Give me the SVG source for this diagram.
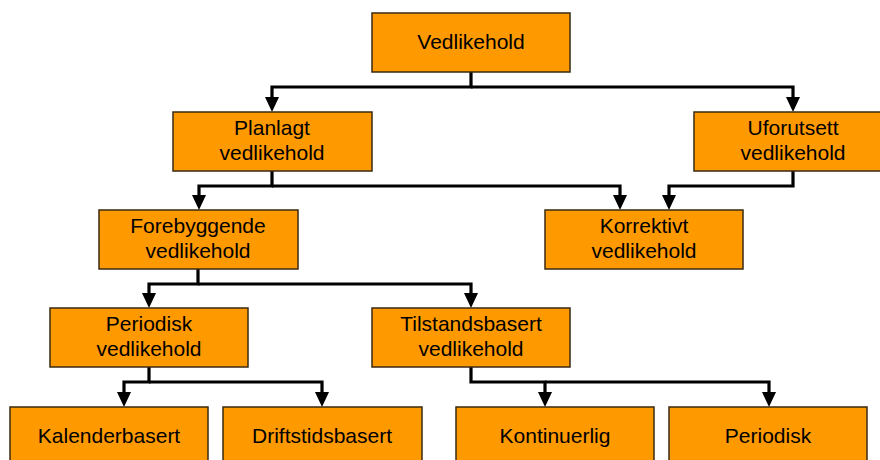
<svg xmlns="http://www.w3.org/2000/svg" width="880" height="460" viewBox="0 0 880 460">
  <style>
    .box { fill: #FF9900; stroke: #3a2a10; stroke-width: 1.5; }
    .lbl { font-family: "Liberation Sans", Arial, sans-serif; font-size: 21px; fill: #000; text-anchor: middle; }
    .wire { fill: none; stroke: #000; stroke-width: 3.2; stroke-linejoin: miter; }
  </style>
  <rect width="880" height="460" fill="#fff"/>

  <!-- connectors -->
  <g id="connectors">
    <path class="wire" d="M471,72 V87 H272 V97" />
    <path class="wire" d="M471,87 H793 V97" />
    <path class="wire" d="M272,171 V186 H199 V196" />
    <path class="wire" d="M272,186 H620 V196" />
    <path class="wire" d="M793,171 V186 H669 V196" />
    <path class="wire" d="M198,269 V284 H149 V294" />
    <path class="wire" d="M198,284 H471 V294" />
    <path class="wire" d="M149,367 V382 H124 V393" />
    <path class="wire" d="M149,382 H322 V393" />
    <path class="wire" d="M471,367 V382 H545 V393" />
    <path class="wire" d="M545,382 H769 V393" />
    <!-- arrowheads -->
    <g fill="#000">
      <path d="M265,97 L279,97 L272,112 Z"/>
      <path d="M786,97 L800,97 L793,112 Z"/>
      <path d="M192,195 L206,195 L199,210 Z"/>
      <path d="M613,195 L627,195 L620,210 Z"/>
      <path d="M662,195 L676,195 L669,210 Z"/>
      <path d="M142,293 L156,293 L149,308 Z"/>
      <path d="M464,293 L478,293 L471,308 Z"/>
      <path d="M117,392 L131,392 L124,407 Z"/>
      <path d="M315,392 L329,392 L322,407 Z"/>
      <path d="M538,392 L552,392 L545,407 Z"/>
      <path d="M762,392 L776,392 L769,407 Z"/>
    </g>
  </g>

  <g id="vedlikehold">
    <rect class="box" x="372" y="13" width="198" height="59"/>
    <text class="lbl" x="471" y="49">Vedlikehold</text>
  </g>
  <g id="planlagt">
    <rect class="box" x="173" y="112" width="199" height="59"/>
    <text class="lbl" x="272" y="135">Planlagt</text>
    <text class="lbl" x="272" y="160">vedlikehold</text>
  </g>
  <g id="uforutsett">
    <rect class="box" x="694" y="112" width="199" height="59"/>
    <text class="lbl" x="793" y="135">Uforutsett</text>
    <text class="lbl" x="793" y="160">vedlikehold</text>
  </g>
  <g id="forebyggende">
    <rect class="box" x="99" y="210" width="199" height="59"/>
    <text class="lbl" x="198" y="233">Forebyggende</text>
    <text class="lbl" x="198" y="258">vedlikehold</text>
  </g>
  <g id="korrektivt">
    <rect class="box" x="545" y="210" width="198" height="59"/>
    <text class="lbl" x="644" y="233">Korrektivt</text>
    <text class="lbl" x="644" y="258">vedlikehold</text>
  </g>
  <g id="periodisk-vedlikehold">
    <rect class="box" x="50" y="308" width="198" height="59"/>
    <text class="lbl" x="149" y="331">Periodisk</text>
    <text class="lbl" x="149" y="356">vedlikehold</text>
  </g>
  <g id="tilstandsbasert">
    <rect class="box" x="372" y="308" width="198" height="59"/>
    <text class="lbl" x="471" y="331">Tilstandsbasert</text>
    <text class="lbl" x="471" y="356">vedlikehold</text>
  </g>
  <g id="kalenderbasert">
    <rect class="box" x="10" y="407" width="198" height="60"/>
    <text class="lbl" x="109" y="443">Kalenderbasert</text>
  </g>
  <g id="driftstidsbasert">
    <rect class="box" x="223" y="407" width="199" height="60"/>
    <text class="lbl" x="322" y="443">Driftstidsbasert</text>
  </g>
  <g id="kontinuerlig">
    <rect class="box" x="456" y="407" width="198" height="60"/>
    <text class="lbl" x="555" y="443">Kontinuerlig</text>
  </g>
  <g id="periodisk">
    <rect class="box" x="669" y="407" width="198" height="60"/>
    <text class="lbl" x="768" y="443">Periodisk</text>
  </g>
</svg>
